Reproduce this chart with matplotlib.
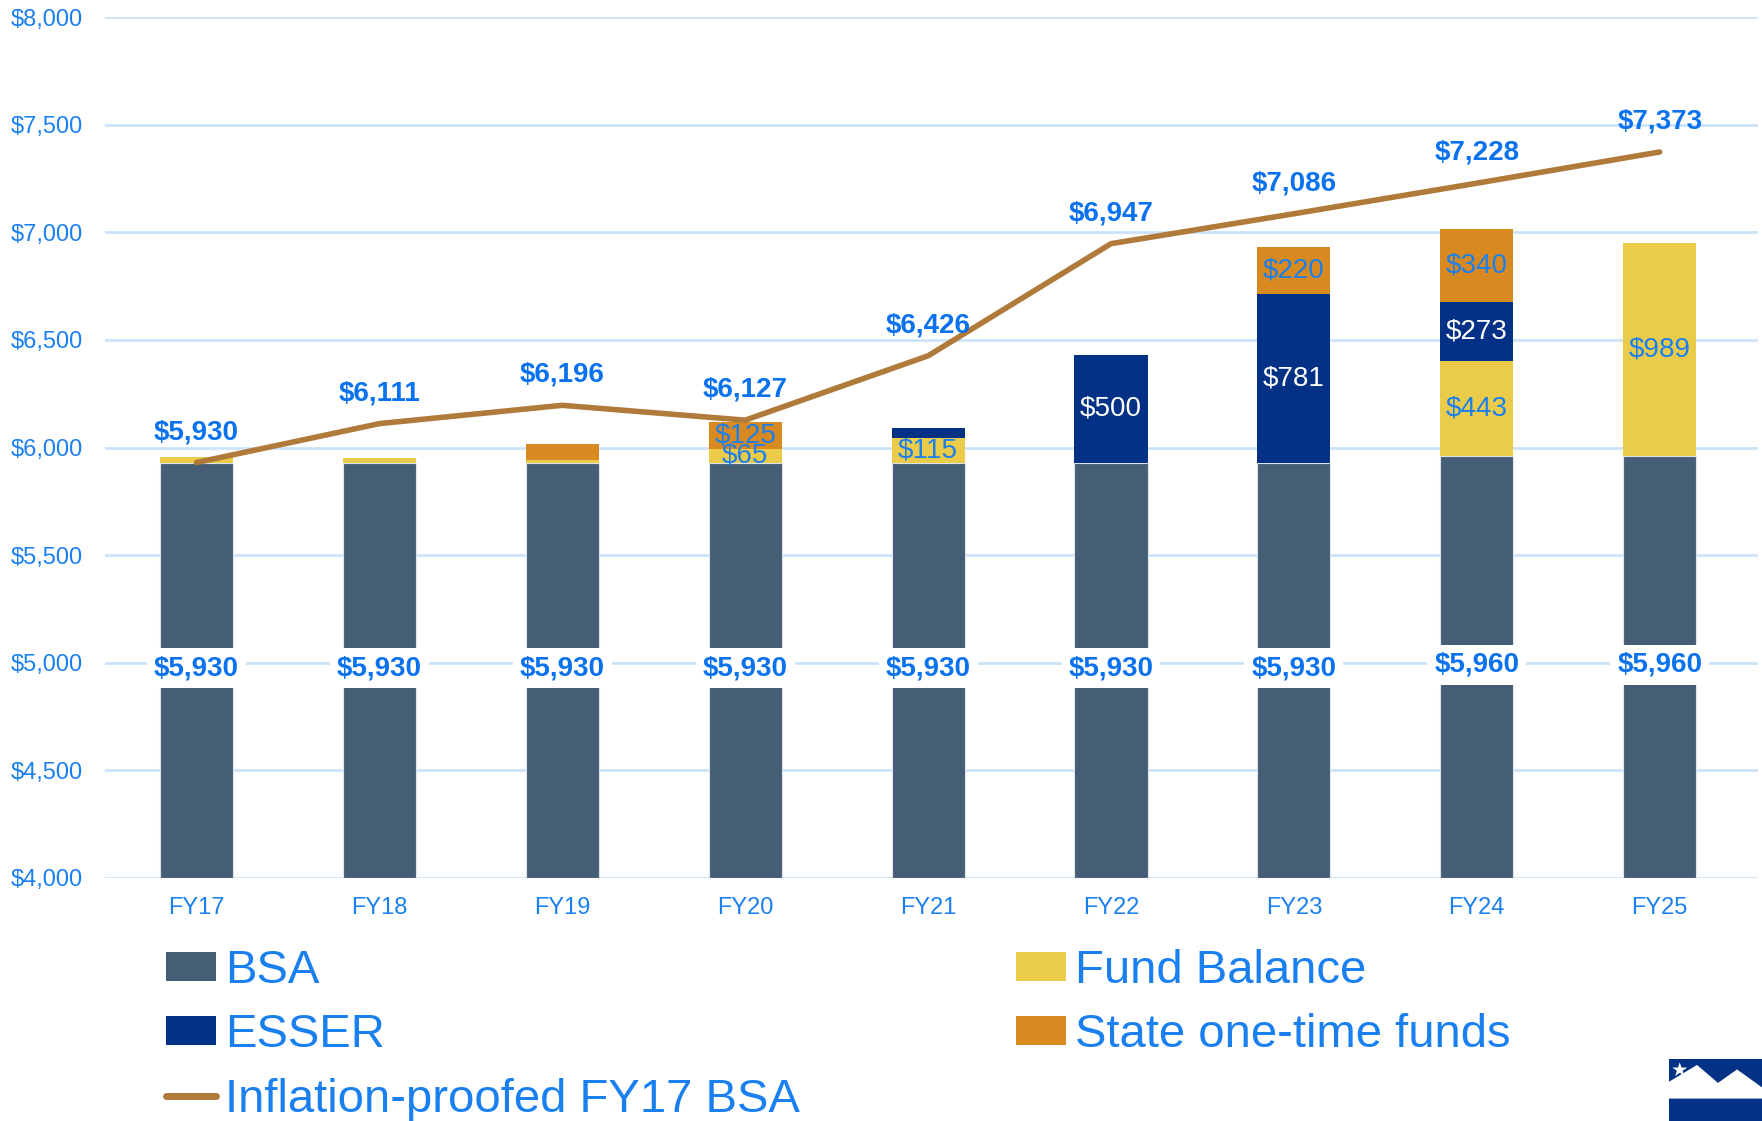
import numpy as np
import matplotlib.pyplot as plt
from matplotlib.patches import Patch, Rectangle, Polygon
from matplotlib.lines import Line2D

plt.rcParams['font.family'] = ['Liberation Sans', 'DejaVu Sans']

# dados (em dólares)
anos = ['FY17', 'FY18', 'FY19', 'FY20', 'FY21', 'FY22', 'FY23', 'FY24', 'FY25']
bsa = [5930, 5930, 5930, 5930, 5930, 5930, 5930, 5960, 5960]
fundo = [25, 22, 12, 65, 115, 0, 0, 443, 989]
esser = [0, 0, 0, 0, 45, 500, 781, 273, 0]
estado = [0, 0, 74, 125, 0, 0, 220, 340, 0]
inflacao = [5930, 6111, 6196, 6127, 6426, 6947, 7086, 7228, 7373]

# quais segmentos recebem rótulo
rotFundo = [False, False, False, True, True, False, False, True, True]
rotEsser = [False, False, False, False, False, True, True, True, False]
rotEstado = [False, False, False, True, False, False, True, True, False]

corBSA = '#465E75'
corEsser = '#023185'
corFundo = '#EBCB4A'
corEstado = '#D88A20'
corLinha = '#B07A3A'
azul = '#1A80F0'
azulForte = '#0A72EE'
grade = '#CDE3FA'

fig = plt.figure(figsize=(17.62, 11.21), dpi=100)
ax = fig.add_axes([0.0596, 0.2168, 0.9384, 0.768])

x = np.arange(len(anos))
larg = 0.40
b1 = np.array(bsa, dtype=float)
b2 = b1 + np.array(fundo)
b3 = b2 + np.array(esser)

ax.bar(x, b1 - 4000, larg, bottom=4000, color=corBSA, edgecolor='#DDE3EA', linewidth=0.8, zorder=2)
ax.bar(x, fundo, larg, bottom=b1, color=corFundo, linewidth=0, zorder=2)
ax.bar(x, esser, larg, bottom=b2, color=corEsser, linewidth=0, zorder=2)
ax.bar(x, estado, larg, bottom=b3, color=corEstado, linewidth=0, zorder=2)

ax.plot(x, inflacao, color=corLinha, linewidth=4, solid_capstyle='round', zorder=4)

# rótulos BSA (caixa branca no meio da barra)
for i in range(len(anos)):
    ax.text(x[i], (4000 + bsa[i]) / 2 + 10, '${:,}'.format(bsa[i]), ha='center', va='center',
            fontsize=20, fontweight='bold', color=azulForte, zorder=5,
            bbox=dict(boxstyle='square,pad=0.25', fc='white', ec='none'))

# rótulos dos segmentos
for i in range(len(anos)):
    if rotFundo[i]:
        ax.text(x[i], b1[i] + fundo[i] / 2, '${}'.format(fundo[i]), ha='center', va='center',
                fontsize=20, color=azul, zorder=5)
    if rotEsser[i]:
        ax.text(x[i], b2[i] + esser[i] / 2, '${}'.format(esser[i]), ha='center', va='center',
                fontsize=20, color='white', zorder=5)
    if rotEstado[i]:
        ax.text(x[i], b3[i] + estado[i] / 2, '${}'.format(estado[i]), ha='center', va='center',
                fontsize=20, color=azul, zorder=5)

# rótulos da linha
for i in range(len(anos)):
    ax.annotate('${:,}'.format(inflacao[i]), (x[i], inflacao[i]), xytext=(0, 22),
                textcoords='offset points', ha='center', va='center',
                fontsize=20, fontweight='bold', color=azulForte, zorder=6)

ax.set_xlim(-0.5, 8.54)
ax.set_ylim(4000, 8000)
ax.set_yticks(np.arange(4000, 8001, 500))
ax.set_yticklabels(['${:,}'.format(v) for v in range(4000, 8001, 500)])
ax.set_xticks(x)
ax.set_xticklabels(anos)
ax.tick_params(axis='both', length=0, labelsize=17, labelcolor=azul)
ax.tick_params(axis='y', pad=16)
ax.tick_params(axis='x', pad=14)
for s in ax.spines.values():
    s.set_visible(False)
ax.grid(axis='y', color=grade, linewidth=2, zorder=0)
ax.set_axisbelow(True)

# legenda
itens = [Patch(facecolor=corBSA, label='BSA'),
         Patch(facecolor=corEsser, label='ESSER'),
         Line2D([0], [0], color=corLinha, linewidth=5, solid_capstyle='round', label='Inflation-proofed FY17 BSA'),
         Patch(facecolor=corFundo, label='Fund Balance'),
         Patch(facecolor=corEstado, label='State one-time funds')]
leg = fig.legend(handles=itens, loc='upper left', bbox_to_anchor=(0.081, 0.1745), ncol=2,
                 fontsize=34, frameon=False, handlelength=1.05, handleheight=0.55,
                 handletextpad=0.2, columnspacing=4.57, labelspacing=0.43, borderpad=0)
for t in leg.get_texts():
    t.set_color(azul)

# logotipo no canto
fig.patches.append(Rectangle((1669 / 1762, 0), 1, (1121 - 1059) / 1121, transform=fig.transFigure,
                             facecolor='#023185', edgecolor='none', zorder=1))
fig.patches.append(Polygon([(1669 / 1762, 0.035), (1697 / 1762, 0.05), (1718 / 1762, 0.034),
                            (1737 / 1762, 0.046), (1762 / 1762, 0.03), (1762 / 1762, 0.02),
                            (1669 / 1762, 0.02)], closed=True, transform=fig.transFigure,
                           facecolor='white', edgecolor='none', zorder=2))
fig.patches.append(Rectangle((1680 / 1762, 0), 82 / 1762, 0.02, transform=fig.transFigure,
                             facecolor='#023185', edgecolor='none', zorder=3))
fig.text(1679 / 1762, 0.045, '★', color='white', fontsize=14, ha='center', va='center',
         family=['DejaVu Sans'])

fig.savefig('out.png', dpi=100)
